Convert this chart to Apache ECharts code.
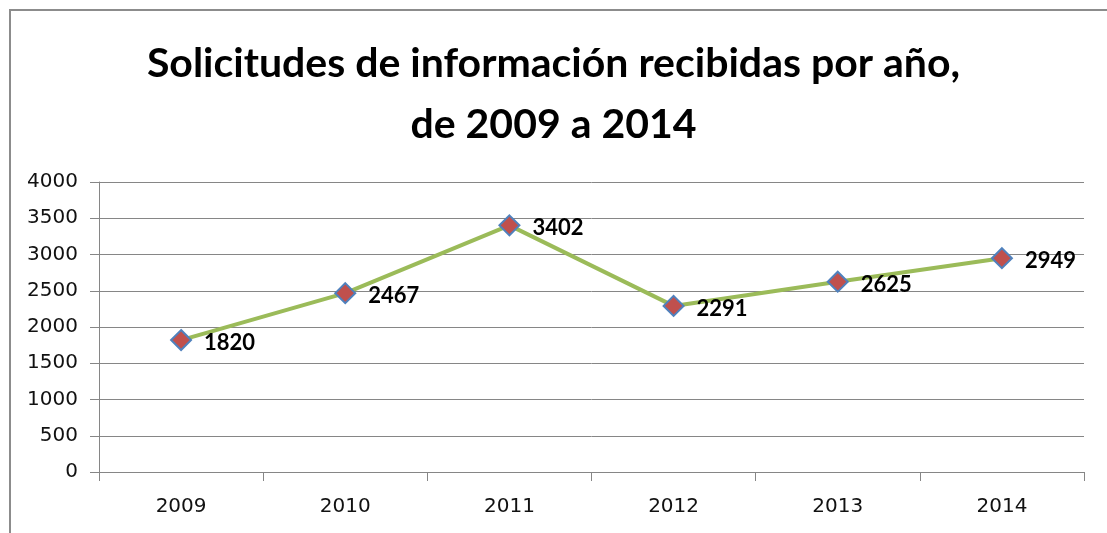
<!DOCTYPE html>
<html>
<head>
<meta charset="utf-8">
<script src="https://cdn.jsdelivr.net/npm/echarts@6/dist/echarts.min.js"></script>
<style>
  html, body { margin: 0; padding: 0; background: #fff; }
  #chart { width: 1107px; height: 533px; }
</style>
</head>
<body>
<div id="chart"></div>
<script>
// datos
const years = ['2009', '2010', '2011', '2012', '2013', '2014'];
const solicitudes = [1820, 2467, 3402, 2291, 2625, 2949];
const yTicks = [0, 500, 1000, 1500, 2000, 2500, 3000, 3500, 4000];

const chart = echarts.init(document.getElementById('chart'));

const option = {
  backgroundColor: '#fff',
  animation: false,
  // marco gris del área del gráfico (cortado a la derecha y abajo)
  graphic: [
    {
      type: 'rect',
      shape: { x: 10, y: 10, width: 1200, height: 600 },
      style: { fill: 'none', stroke: '#8c8c8c', lineWidth: 2 },
      silent: true
    }
  ],
  title: {
    text: 'Solicitudes de información recibidas por año,\nde 2009 a 2014',
    left: 'center',
    top: 28,
    textStyle: {
      fontFamily: 'Lato',
      fontWeight: 'bold',
      fontSize: 41,
      lineHeight: 61,
      color: '#000'
    }
  },
  grid: {
    left: 99,
    right: 23,
    top: 182,
    bottom: 61
  },
  xAxis: {
    type: 'category',
    data: years,
    boundaryGap: true,
    axisLine: { lineStyle: { color: '#868686', width: 1 } },
    axisTick: { show: true, length: 9, lineStyle: { color: '#868686' } },
    axisLabel: {
      color: '#111',
      fontSize: 20,
      fontFamily: 'DejaVu Sans',
      margin: 25
    }
  },
  yAxis: {
    type: 'value',
    min: 0,
    max: yTicks[yTicks.length - 1],
    interval: yTicks[1] - yTicks[0],
    axisLine: { show: true, lineStyle: { color: '#868686', width: 1 } },
    axisTick: { show: true, length: 9, lineStyle: { color: '#868686' } },
    splitLine: { lineStyle: { color: '#868686', width: 1 } },
    axisLabel: {
      color: '#111',
      fontSize: 20,
      fontFamily: 'DejaVu Sans',
      margin: 21,
      formatter: (v) => String(v)
    }
  },
  series: [
    {
      name: 'Solicitudes',
      type: 'line',
      data: solicitudes,
      symbol: 'diamond',
      symbolSize: 20,
      lineStyle: { color: '#9BBB59', width: 4 },
      itemStyle: {
        color: '#C0504D',
        borderColor: '#4F81BD',
        borderWidth: 2
      },
      label: {
        show: true,
        position: 'right',
        distance: 12,
        offset: [0, 3],
        color: '#000',
        fontSize: 22,
        fontWeight: 'bold',
        fontFamily: 'Lato'
      }
    }
  ]
};

chart.setOption(option);
</script>
</body>
</html>
